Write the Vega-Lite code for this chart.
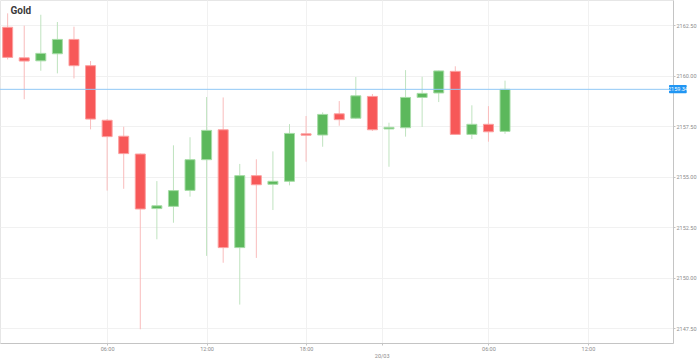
{
  "$schema": "https://vega.github.io/schema/vega-lite/v6.json",
  "width": 673,
  "height": 343,
  "autosize": {"type": "none"},
  "padding": {"left": 0, "top": 0, "right": 25, "bottom": 20},
  "background": "white",
  "title": {"text": "Gold", "anchor": "start", "orient": "top", "offset": 0, "dx": 11, "dy": 16, "fontSize": 10, "fontWeight": "bold", "font": "Roboto", "color": "#3a3a3a"},
  "config": {
    "view": {"stroke": "#e6e6e6"},
    "axis": {"labelFont": "Roboto", "labelFontSize": 5.5, "labelColor": "#8c8c8c", "domainColor": "#c4c4c4", "tickColor": "#c4c4c4", "gridColor": "#f1f1f1", "title": null}
  },
  "datasets": {
    "candles": [
      {"i": 0, "o": 2162.39, "h": 2163.08, "l": 2160.80, "c": 2160.90},
      {"i": 1, "o": 2160.88, "h": 2162.47, "l": 2158.83, "c": 2160.72},
      {"i": 2, "o": 2160.73, "h": 2163.01, "l": 2160.24, "c": 2161.10},
      {"i": 3, "o": 2161.08, "h": 2162.65, "l": 2160.11, "c": 2161.79},
      {"i": 4, "o": 2161.79, "h": 2162.42, "l": 2159.86, "c": 2160.49},
      {"i": 5, "o": 2160.49, "h": 2160.72, "l": 2157.34, "c": 2157.85},
      {"i": 6, "o": 2157.79, "h": 2157.85, "l": 2154.31, "c": 2156.98},
      {"i": 7, "o": 2157.00, "h": 2157.47, "l": 2154.40, "c": 2156.14},
      {"i": 8, "o": 2156.12, "h": 2156.15, "l": 2147.45, "c": 2153.40},
      {"i": 9, "o": 2153.42, "h": 2154.78, "l": 2151.90, "c": 2153.56},
      {"i": 10, "o": 2153.53, "h": 2156.55, "l": 2152.72, "c": 2154.31},
      {"i": 11, "o": 2154.32, "h": 2156.95, "l": 2154.01, "c": 2155.84},
      {"i": 12, "o": 2155.84, "h": 2158.94, "l": 2151.08, "c": 2157.29},
      {"i": 13, "o": 2157.32, "h": 2158.92, "l": 2150.74, "c": 2151.49},
      {"i": 14, "o": 2151.49, "h": 2155.63, "l": 2148.67, "c": 2155.05},
      {"i": 15, "o": 2155.05, "h": 2155.86, "l": 2150.98, "c": 2154.60},
      {"i": 16, "o": 2154.62, "h": 2156.25, "l": 2153.35, "c": 2154.77},
      {"i": 17, "o": 2154.77, "h": 2157.60, "l": 2154.57, "c": 2157.14},
      {"i": 18, "o": 2157.12, "h": 2158.00, "l": 2155.74, "c": 2157.05},
      {"i": 19, "o": 2157.06, "h": 2158.18, "l": 2156.48, "c": 2158.08},
      {"i": 20, "o": 2158.11, "h": 2158.74, "l": 2157.52, "c": 2157.82},
      {"i": 21, "o": 2157.89, "h": 2159.93, "l": 2157.85, "c": 2159.00},
      {"i": 22, "o": 2158.97, "h": 2159.09, "l": 2157.26, "c": 2157.32},
      {"i": 23, "o": 2157.36, "h": 2157.67, "l": 2155.49, "c": 2157.44},
      {"i": 24, "o": 2157.42, "h": 2160.27, "l": 2156.98, "c": 2158.92},
      {"i": 25, "o": 2158.92, "h": 2159.94, "l": 2157.46, "c": 2159.12},
      {"i": 26, "o": 2159.14, "h": 2160.25, "l": 2158.69, "c": 2160.23},
      {"i": 27, "o": 2160.21, "h": 2160.46, "l": 2157.07, "c": 2157.09},
      {"i": 28, "o": 2157.09, "h": 2158.53, "l": 2156.86, "c": 2157.59},
      {"i": 29, "o": 2157.59, "h": 2158.49, "l": 2156.73, "c": 2157.22},
      {"i": 30, "o": 2157.24, "h": 2159.75, "l": 2157.12, "c": 2159.32}
    ],
    "last": [
      {"x1": 39.89, "x2": 40.96, "xm": 40.43, "price": 2159.32, "top": 2159.53, "bottom": 2159.13, "label": "2159.34"}
    ]
  },
  "layer": [
    {
      "data": {"name": "candles"},
      "mark": {"type": "rule", "strokeWidth": 1, "clip": true},
      "encoding": {
        "x": {"field": "i", "type": "quantitative",
          "scale": {"domain": [-0.16, 39.83], "nice": false, "zero": false},
          "axis": {"values": [6, 12, 18, 22.56, 29, 35], "grid": true, "tickSize": 2, "labelPadding": 1, "labelBaseline": "top",
            "labelExpr": "datum.value == 6 || datum.value == 29 ? '06:00' : datum.value == 12 || datum.value == 35 ? '12:00' : datum.value == 18 ? '18:00' : ['', '20/03']"}},
        "y": {"field": "l", "type": "quantitative",
          "scale": {"domain": [2146.77, 2163.74], "nice": false, "zero": false},
          "axis": {"orient": "right", "values": [2147.5, 2150, 2152.5, 2155, 2157.5, 2160, 2162.5], "format": ".2f", "grid": true, "tickSize": 2, "labelPadding": 1}},
        "y2": {"field": "h"},
        "color": {"condition": {"test": "datum.c >= datum.o", "value": "#bfe3bf"}, "value": "#f9bcbc"}
      }
    },
    {
      "data": {"name": "candles"},
      "mark": {"type": "bar", "size": 10, "strokeWidth": 1, "clip": true},
      "encoding": {
        "x": {"field": "i", "type": "quantitative"},
        "y": {"field": "o", "type": "quantitative"},
        "y2": {"field": "c"},
        "color": {"condition": {"test": "datum.c >= datum.o", "value": "#5cb85c"}, "value": "#f75858"},
        "stroke": {"condition": {"test": "datum.c >= datum.o", "value": "#a6dca6"}, "value": "#fba0a0"}
      }
    },
    {
      "data": {"name": "last"},
      "mark": {"type": "rule", "strokeWidth": 1, "color": "#91c8f6"},
      "encoding": {"y": {"field": "price", "type": "quantitative"}}
    },
    {
      "data": {"name": "last"},
      "mark": {"type": "rect", "color": "#2196f3", "cornerRadius": 1},
      "encoding": {
        "x": {"field": "x1", "type": "quantitative"},
        "x2": {"field": "x2"},
        "y": {"field": "top", "type": "quantitative"},
        "y2": {"field": "bottom"}
      }
    },
    {
      "data": {"name": "last"},
      "mark": {"type": "text", "color": "white", "font": "Roboto", "fontSize": 5.5, "align": "center", "baseline": "middle"},
      "encoding": {
        "x": {"field": "xm", "type": "quantitative"},
        "y": {"field": "price", "type": "quantitative"},
        "text": {"field": "label"}
      }
    }
  ]
}
